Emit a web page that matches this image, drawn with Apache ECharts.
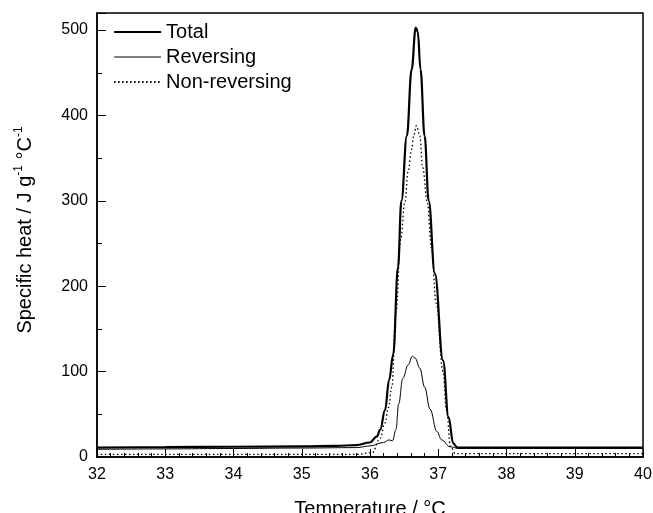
<!DOCTYPE html>
<html>
<head>
<meta charset="utf-8">
<script src="https://cdn.jsdelivr.net/npm/echarts@6/dist/echarts.min.js"></script>
<style>
  html, body { margin: 0; padding: 0; background: #fff; }
  #chart { width: 653px; height: 513px; }
</style>
</head>
<body>
<div id="chart"></div>
<script>
// Temperature (°C) and specific heat (J g-1 °C-1)
var totalTemp = [32, 33, 34, 35, 35.5, 35.8, 36.0, 36.1, 36.15, 36.22, 36.28, 36.34, 36.41, 36.46, 36.54, 36.61, 36.67, 36.70, 36.74, 36.80, 36.86, 36.95, 37.07, 37.15, 37.22, 37.28, 38, 39, 40];
var totalHeat = [11, 11.5, 12, 12.5, 13, 14, 17, 24, 32, 55, 90, 120, 222, 300, 376, 454, 503, 498, 454, 376, 300, 215, 113, 47, 16, 11, 11, 11, 11];

var revTemp = [32, 33, 34, 35, 35.8, 36.0, 36.2, 36.28, 36.33, 36.38, 36.42, 36.48, 36.56, 36.62, 36.66, 36.73, 36.80, 36.88, 36.98, 37.05, 37.17, 37.3, 38, 40];
var revHeat = [9, 9.5, 10, 10.5, 11, 13, 17, 20, 19, 32, 62, 92, 108, 118, 116, 104, 82, 56, 30, 20, 12, 10, 10, 10];

var nonRevTemp = [32, 33, 34, 35, 35.8, 36.03, 36.15, 36.22, 36.27, 36.32, 36.38, 36.45, 36.51, 36.56, 36.61, 36.64, 36.68, 36.73, 36.77, 36.84, 36.90, 36.97, 37.07, 37.12, 37.18, 37.25, 38, 40];
var nonRevHeat = [3, 3, 3, 3, 3, 5, 22, 40, 58, 82, 170, 255, 298, 335, 360, 376, 388, 376, 340, 298, 245, 180, 100, 55, 12, 4, 4, 4];

var xTicks = [32, 33, 34, 35, 36, 37, 38, 39, 40];
var yTicks = [0, 100, 200, 300, 400, 500];

function pairs(xs, ys) {
  return xs.map(function (x, i) { return [x, ys[i]]; });
}

var chart = echarts.init(document.getElementById('chart'));
var font = 'Liberation Sans, Arial, sans-serif';

chart.setOption({
  backgroundColor: '#ffffff',
  animation: false,
  grid: {
    left: 97, right: 10, top: 13, bottom: 56,
    outerBoundsMode: 'none', containLabel: false,
    show: true, borderColor: '#000', borderWidth: 1.5, backgroundColor: 'transparent'
  },
  legend: {
    orient: 'vertical',
    left: 113, top: 22, padding: 0,
    itemWidth: 47, itemHeight: 14, itemGap: 5,
    itemStyle: { opacity: 0 },
    textStyle: { fontFamily: font, fontSize: 20, color: '#000' },
    data: [
      { name: 'Total', lineStyle: { width: 2.2 } },
      { name: 'Reversing', lineStyle: { width: 1.2 } },
      { name: 'Non-reversing' }
    ]
  },
  xAxis: {
    type: 'value',
    min: xTicks[0], max: xTicks[xTicks.length - 1], interval: 1,
    name: 'Temperature / °C',
    nameLocation: 'middle', nameGap: 42,
    nameTextStyle: { fontFamily: font, fontSize: 20, color: '#000' },
    axisLine: { show: true, onZero: false, lineStyle: { color: '#000', width: 1.5 } },
    axisTick: { inside: true, length: 8, lineStyle: { color: '#000', width: 1 } },
    minorTick: { show: true, splitNumber: 5, length: 4, lineStyle: { color: '#000', width: 1 } },
    axisLabel: { fontFamily: font, fontSize: 16, color: '#000', margin: 10 },
    splitLine: { show: false }
  },
  yAxis: {
    type: 'value',
    min: 0, max: 520, interval: 100,
    name: '{n|Specific heat / J g}{s|-1}{n| °C}{s|-1}',
    nameLocation: 'middle', nameGap: 60, nameRotate: 90,
    nameTextStyle: {
      fontFamily: font, color: '#000', padding: [0, 0, 0, 10],
      rich: {
        n: { fontFamily: font, fontSize: 20, color: '#000', lineHeight: 24 },
        s: { fontFamily: font, fontSize: 12, color: '#000', verticalAlign: 'top', lineHeight: 24, padding: [0, 0, 10, 0] }
      }
    },
    axisLine: { show: true, lineStyle: { color: '#000', width: 1.5 } },
    axisTick: { inside: true, length: 9, lineStyle: { color: '#000', width: 1 } },
    minorTick: { show: true, splitNumber: 2, length: 5, lineStyle: { color: '#000', width: 1 } },
    axisLabel: {
      fontFamily: font, fontSize: 16, color: '#000', margin: 9,
      formatter: function (v) { return yTicks.indexOf(v) >= 0 ? String(v) : ''; }
    },
    splitLine: { show: false }
  },
  series: [
    {
      name: 'Total', type: 'line', data: pairs(totalTemp, totalHeat),
      symbol: 'none', smooth: 0.4, smoothMonotone: 'x',
      lineStyle: { color: '#000', width: 2.2 }, itemStyle: { color: '#000' }, z: 3
    },
    {
      name: 'Reversing', type: 'line', data: pairs(revTemp, revHeat),
      symbol: 'none', smooth: 0.4, smoothMonotone: 'x',
      lineStyle: { color: '#000', width: 1 }, itemStyle: { color: '#000' }, z: 2
    },
    {
      name: 'Non-reversing', type: 'line', data: pairs(nonRevTemp, nonRevHeat),
      symbol: 'none', smooth: 0.4, smoothMonotone: 'x',
      lineStyle: { color: '#000', width: 1.3, type: [1.5, 2.5] }, itemStyle: { color: '#000' }, z: 1
    }
  ]
});
</script>
</body>
</html>
